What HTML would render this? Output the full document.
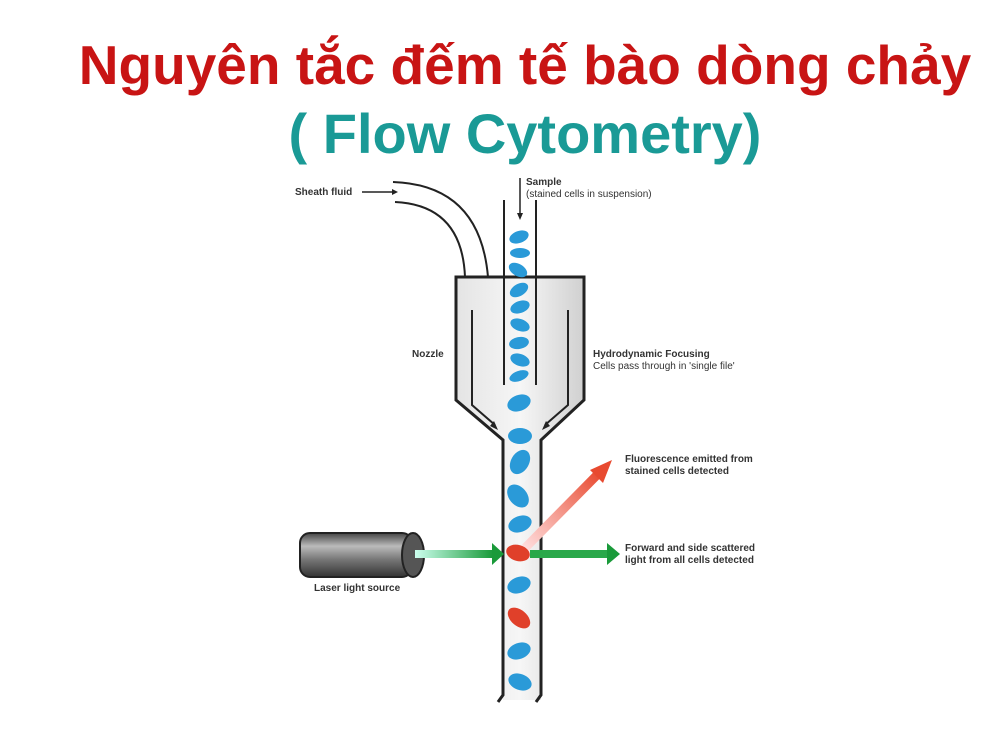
<!DOCTYPE html>
<html><head><meta charset="utf-8"><style>
body{margin:0;width:1000px;height:750px;background:#fff;overflow:hidden;font-family:"Liberation Sans",sans-serif}
.t{position:absolute;width:1000px;left:25px;text-align:center;font-weight:bold;font-size:55px}
</style></head><body>
<div class="t" style="top:33px;color:#c81414">Nguyên tắc đếm tế bào dòng chảy</div>
<div class="t" style="top:101px;color:#1a9a96;font-size:56px">( Flow Cytometry)</div>
<svg width="1000" height="750" style="position:absolute;left:0;top:0" font-family="Liberation Sans, sans-serif">
<defs>
<linearGradient id="g" x1="0" x2="1"><stop offset="0" stop-color="#e4e4e4"/><stop offset=".5" stop-color="#f6f6f6"/><stop offset="1" stop-color="#d0d0d0"/></linearGradient>
<linearGradient id="cyl" x1="0" y1="0" x2="0" y2="1"><stop offset="0" stop-color="#444"/><stop offset=".3" stop-color="#bbb"/><stop offset=".6" stop-color="#777"/><stop offset="1" stop-color="#333"/></linearGradient>
<linearGradient id="gb" x1="0" x2="1"><stop offset="0" stop-color="#cfe"/><stop offset="1" stop-color="#1a9a3a"/></linearGradient>
<linearGradient id="rb" x1="0" y1="1" x2="1" y2="0"><stop offset="0" stop-color="#fdd"/><stop offset="1" stop-color="#e84a30"/></linearGradient>
</defs>
<path d="M456,277 H584 V400 L541,440 V700 H503 V440 L456,400 Z" fill="url(#g)"/>
<path d="M498,702 L503,695 V440 L456,400 V277 H584 V400 L541,440 V695 L536,702" fill="none" stroke="#222" stroke-width="3"/>
<path d="M504,200 V385 M536,200 V385" stroke="#222" stroke-width="2" fill="none"/>
<path d="M393,182 Q480,185 488,277 M395,202 Q462,205 465,277" stroke="#222" stroke-width="2" fill="none"/>
<path d="M362,192 H392" stroke="#222" stroke-width="1.5"/><path d="M392,189 L398,192 L392,195Z" fill="#222"/>
<path d="M520,178 V215" stroke="#222" stroke-width="1.5"/><path d="M517,213 L520,220 L523,213Z" fill="#222"/>
<path d="M472,310 V405 L495,425 M568,310 V405 L545,425" stroke="#222" stroke-width="2" fill="none"/>
<path d="M490,426 L498,430 L494,421Z M550,426 L542,430 L546,421Z" fill="#222"/>
<g fill="#2a9ad8">
<ellipse cx="519" cy="237" rx="10" ry="6" transform="rotate(-20 519 237)"/>
<ellipse cx="520" cy="253" rx="10" ry="5"/>
<ellipse cx="518" cy="270" rx="10" ry="6" transform="rotate(30 518 270)"/>
<ellipse cx="519" cy="290" rx="10" ry="6" transform="rotate(-30 519 290)"/>
<ellipse cx="520" cy="307" rx="10" ry="6" transform="rotate(-20 520 307)"/>
<ellipse cx="520" cy="325" rx="10" ry="6" transform="rotate(20 520 325)"/>
<ellipse cx="519" cy="343" rx="10" ry="6" transform="rotate(-10 519 343)"/>
<ellipse cx="520" cy="360" rx="10" ry="6" transform="rotate(20 520 360)"/>
<ellipse cx="519" cy="376" rx="10" ry="5" transform="rotate(-20 519 376)"/>
<ellipse cx="519" cy="403" rx="12" ry="8" transform="rotate(-20 519 403)"/>
<ellipse cx="520" cy="436" rx="12" ry="8"/>
<ellipse cx="520" cy="462" rx="9" ry="13" transform="rotate(30 520 462)"/>
<ellipse cx="518" cy="496" rx="9" ry="13" transform="rotate(-40 518 496)"/>
<ellipse cx="520" cy="524" rx="12" ry="8" transform="rotate(-20 520 524)"/>
<ellipse cx="519" cy="585" rx="12" ry="8" transform="rotate(-20 519 585)"/>
<ellipse cx="519" cy="651" rx="12" ry="8" transform="rotate(-20 519 651)"/>
<ellipse cx="520" cy="682" rx="12" ry="8" transform="rotate(20 520 682)"/>
</g>
<ellipse cx="519" cy="618" rx="8" ry="13" transform="rotate(-50 519 618)" fill="#e0402a"/>
<path d="M525,548 L600,472" stroke="url(#rb)" stroke-width="9"/>
<path d="M590,470 L612,460 L603,483Z" fill="#e84a30"/>
<rect x="300" y="533" width="112" height="44" rx="10" fill="url(#cyl)" stroke="#222" stroke-width="2"/>
<ellipse cx="413" cy="555" rx="11" ry="22" fill="#555" stroke="#222" stroke-width="2"/>
<rect x="415" y="550" width="78" height="8" fill="url(#gb)"/>
<path d="M492,543 L504,554 L492,565Z" fill="#1a9a3a"/>
<rect x="530" y="550" width="80" height="8" fill="#2aa84a"/>
<path d="M607,543 L620,554 L607,565Z" fill="#1a9a3a"/>
<ellipse cx="518" cy="553" rx="12" ry="8" transform="rotate(15 518 553)" fill="#e0402a"/>
<g font-size="10" fill="#333">
<text x="295" y="195" font-weight="bold">Sheath fluid</text>
<text x="526" y="185" font-weight="bold">Sample</text>
<text x="526" y="197">(stained cells in suspension)</text>
<text x="412" y="357" font-weight="bold">Nozzle</text>
<text x="593" y="357" font-weight="bold">Hydrodynamic Focusing</text>
<text x="593" y="369">Cells pass through in 'single file'</text>
<text x="625" y="462" font-weight="bold">Fluorescence emitted from</text>
<text x="625" y="474" font-weight="bold">stained cells detected</text>
<text x="625" y="551" font-weight="bold">Forward and side scattered</text>
<text x="625" y="563" font-weight="bold">light from all cells detected</text>
<text x="314" y="591" font-weight="bold">Laser light source</text>
</g>
</svg>
</body></html>
